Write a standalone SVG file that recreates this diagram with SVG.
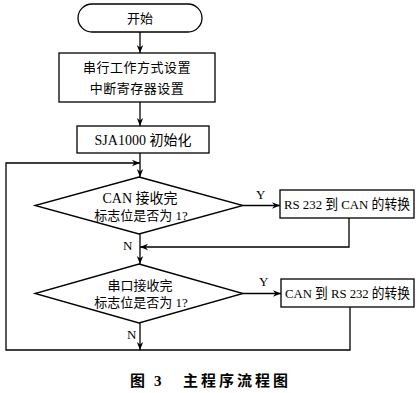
<svg xmlns="http://www.w3.org/2000/svg" width="420" height="393" viewBox="0 0 420 393">
<style>
.s{fill:#fff;stroke:#000;stroke-width:1.3}
.c{fill:none;stroke:#000;stroke-width:1.3}
.t{font-family:"Liberation Serif","Noto Sans CJK SC",serif;font-size:13px;fill:#000;text-anchor:middle}
.b{font-family:"Liberation Serif","Noto Sans CJK SC",serif;font-size:14px;fill:#000;text-anchor:middle}
.r{font-family:"Liberation Serif","Noto Sans CJK SC",serif;font-size:13.5px;fill:#000;text-anchor:middle}
.l{font-family:"Liberation Serif","Noto Sans CJK SC",serif;font-size:13px;fill:#000}
.cap{font-family:"Liberation Serif","Noto Sans CJK SC",serif;font-size:15px;font-weight:bold;fill:#000}
</style>
<defs>
<marker id="a" viewBox="0 0 10 10" refX="10" refY="5" markerWidth="8" markerHeight="8" markerUnits="userSpaceOnUse" orient="auto">
<path d="M0,1 L10,5 L0,9 L3,5 Z" fill="#000"/>
</marker>
</defs>
<rect width="420" height="393" fill="#fff"/>
<g id="connectors">
<line class="c" x1="140" y1="32" x2="140" y2="53" marker-end="url(#a)"/>
<line class="c" x1="140" y1="102" x2="140" y2="126" marker-end="url(#a)"/>
<line class="c" x1="140" y1="153" x2="140" y2="177" marker-end="url(#a)"/>
<path class="c" d="M350,307 V350 H6 V163 H140" marker-end="url(#a)"/>
<line class="c" x1="243" y1="205.5" x2="280" y2="205.5" marker-end="url(#a)"/>
<path class="c" d="M349,218 V247 H140" marker-end="url(#a)"/>
<line class="c" x1="140" y1="234" x2="140" y2="264" marker-end="url(#a)"/>
<line class="c" x1="243" y1="293.5" x2="281" y2="293.5" marker-end="url(#a)"/>
<line class="c" x1="140" y1="323" x2="140" y2="350" marker-end="url(#a)"/>
<text class="l" x="256" y="199">Y</text>
<text class="l" x="123" y="250">N</text>
<text class="l" x="259" y="286">Y</text>
<text class="l" x="127" y="339">N</text>
</g>
<g id="start">
<rect class="s" x="78" y="4" width="124" height="28" rx="14"/>
<text class="t" x="140" y="22.5">开始</text>
</g>
<g id="setup">
<rect class="s" x="59" y="53" width="156" height="49"/>
<text class="t" x="137" y="72" letter-spacing="0.5">串行工作方式设置</text>
<text class="t" x="137" y="93" letter-spacing="0.5">中断寄存器设置</text>
</g>
<g id="init">
<rect class="s" x="77" y="126" width="132" height="27"/>
<text class="b" x="143" y="144.5">SJA1000 初始化</text>
</g>
<g id="dec1">
<polygon class="s" points="139,177 243,205.5 139,234 35,205.5"/>
<text class="b" x="140" y="202.5">CAN 接收完</text>
<text class="t" x="141" y="219.5">标志位是否为 1?</text>
</g>
<g id="rs2can">
<rect class="s" x="280" y="190" width="134" height="28"/>
<text class="r" x="347" y="209" textLength="126" lengthAdjust="spacingAndGlyphs">RS 232 到 CAN 的转换</text>
</g>
<g id="dec2">
<polygon class="s" points="139,264 243,293.5 139,323 35,293.5"/>
<text class="t" x="140" y="289.5">串口接收完</text>
<text class="t" x="141" y="306.5">标志位是否为 1?</text>
</g>
<g id="can2rs">
<rect class="s" x="281" y="279" width="133" height="28"/>
<text class="r" x="347.5" y="298" textLength="125" lengthAdjust="spacingAndGlyphs">CAN 到 RS 232 的转换</text>
</g>
<text class="cap" x="130" y="386">图</text>
<text class="cap" x="154" y="386">3</text>
<text class="cap" x="183" y="386" letter-spacing="3">主程序流程图</text>
</svg>
